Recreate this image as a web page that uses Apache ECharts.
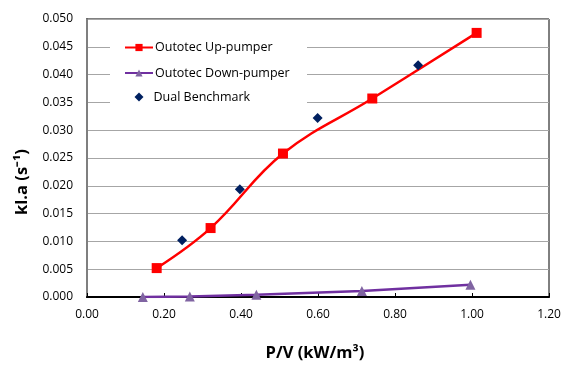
<!DOCTYPE html>
<html><head><meta charset="utf-8">
<script src="https://cdn.jsdelivr.net/npm/echarts@6/dist/echarts.min.js"></script>
<style>html,body{margin:0;padding:0;background:#fff}#c{width:564px;height:365px}</style>
</head><body><div id="c"></div>
<script>
var upX = [0.181, 0.321, 0.509, 0.741, 1.012];
var upY = [0.0052, 0.0124, 0.0258, 0.0357, 0.0475];
var downX = [0.145, 0.267, 0.440, 0.714, 0.996];
var downY = [0.0000, 0.0001, 0.0004, 0.0011, 0.0022];
var benchX = [0.247, 0.397, 0.599, 0.860];
var benchY = [0.0102, 0.0194, 0.0322, 0.0417];
var xTitle = 'P/V (kW/m³)';
var yTitle = 'kl.a (s⁻¹)';
var names = ['Outotec Up-pumper', 'Outotec Down-pumper', 'Dual Benchmark'];

function pairs(xs, ys){ return xs.map(function(x,i){return [x, ys[i]];}); }
var FONT = 'Open Sans';
var chart = echarts.init(document.getElementById('c'), null, {renderer:'canvas'});
var legendBase = {
  orient:'vertical', itemWidth:28, itemHeight:9, left:124,
  textStyle:{fontFamily:FONT, fontSize:12.5, color:'#000', padding:[0,0,0,-3]},
  padding:0
};
chart.setOption({
  animation:false,
  backgroundColor:'#fff',
  grid:{left:87, right:15, top:19, bottom:68, show:true, borderColor:'#000', borderWidth:1},
  graphic:[
    {type:'rect', left:110, top:30, shape:{width:197, height:82}, style:{fill:'#fff'}, z:5},
    {type:'text', x:315, y:353, style:{text:xTitle, font:'bold 16.5px "Open Sans"', fill:'#000', textAlign:'center', textVerticalAlign:'middle'}},
    {type:'text', x:22, y:182, rotation:Math.PI/2, style:{text:yTitle, font:'bold 16.5px "Open Sans"', fill:'#000', textAlign:'center', textVerticalAlign:'middle'}}
  ],
  legend:[
    Object.assign({}, legendBase, {top:41, data:[names[0]], z:10}),
    Object.assign({}, legendBase, {top:66.5, data:[names[1]], z:10}),
    Object.assign({}, legendBase, {top:90.5, left:134.5, itemWidth:9, itemHeight:9,
      textStyle:{fontFamily:FONT, fontSize:12.5, color:'#000', padding:[0,0,0,5]},
      data:[names[2]], z:10})
  ],
  xAxis:[{
    type:'value', min:0, max:1.2, interval:0.2,
    axisLine:{show:true, onZero:false, lineStyle:{color:'#000', width:2}},
    axisTick:{show:true, inside:true, length:4, lineStyle:{color:'#000'}},
    axisLabel:{margin:12, fontFamily:FONT, fontSize:12, color:'#000', formatter:function(v){return v.toFixed(2);}},
    splitLine:{show:false}
  },{
    type:'value', position:'top', min:0, max:1.2, interval:0.2,
    axisLine:{show:true, lineStyle:{color:'#000', width:1}}, axisTick:{show:false}, axisLabel:{show:false}, splitLine:{show:false}
  }],
  yAxis:[{
    type:'value', min:0, max:0.05, interval:0.005,
    axisLine:{show:true, onZero:false, lineStyle:{color:'#000', width:2}},
    axisTick:{show:false},
    axisLabel:{margin:14, fontFamily:FONT, fontSize:12, color:'#000', formatter:function(v){return v.toFixed(3);}},
    splitLine:{show:true, lineStyle:{color:'#a6a6a6', width:1}}
  },{
    type:'value', position:'right', min:0, max:0.05, interval:0.005,
    axisLine:{show:true, lineStyle:{color:'#7f7f7f', width:2}}, axisTick:{show:false}, axisLabel:{show:false}, splitLine:{show:false}
  }],
  series:[
    {name:names[0], type:'line', data:pairs(upX, upY), smooth:0.4, symbol:'rect', symbolSize:10,
     lineStyle:{color:'#ff0000', width:2.5}, itemStyle:{color:'#ff0000'}, z:3},
    {name:names[1], type:'line', data:pairs(downX, downY), smooth:false, symbol:'triangle', symbolSize:10,
     lineStyle:{color:'#7030a0', width:2.5}, itemStyle:{color:'#8064a2'}, z:3},
    {name:names[2], type:'scatter', data:pairs(benchX, benchY), symbol:'diamond', symbolSize:10,
     itemStyle:{color:'#002060', opacity:1}, z:4}
  ]
});
</script></body></html>
